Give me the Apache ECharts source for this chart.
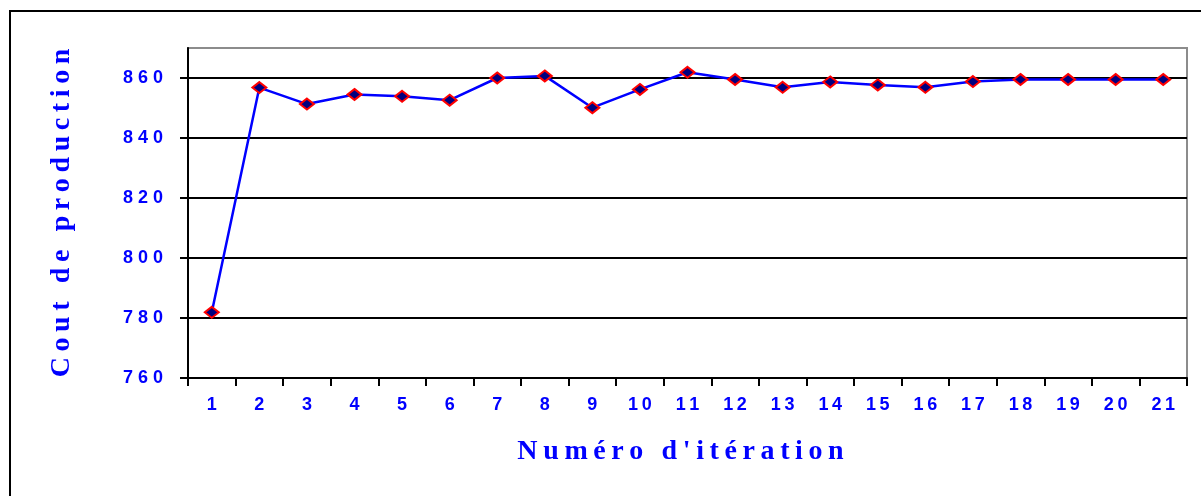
<!DOCTYPE html>
<html>
<head>
<meta charset="utf-8">
<script src="https://cdn.jsdelivr.net/npm/echarts@6/dist/echarts.min.js"></script>
<style>
html,body{margin:0;padding:0;background:#fff;}
#main{width:1201px;height:496px;}
</style>
</head>
<body>
<div id="main"></div>
<script>
var iterations=['1','2','3','4','5','6','7','8','9','10','11','12','13','14','15','16','17','18','19','20','21'];
var couts=[781.9,856.8,851.3,854.5,853.9,852.6,860.0,860.7,850.1,856.2,861.9,859.5,856.9,858.7,857.7,856.9,858.8,859.5,859.5,859.5,859.5];
var yTicks=[760,780,800,820,840,860];
var xTitle="Numéro d'itération";
var yTitle="Cout de production";

var myChart = echarts.init(document.getElementById('main'));

// espace fin entre les lettres, comme dans l'image
function espace(s,sep){
	return s.split('').join(sep);
}

myChart.setOption({
	animation:false,
	backgroundColor:'#fff',
	graphic:[{
		type:'rect',
		shape:{x:10,y:11,width:1400,height:700},
		style:{fill:'none',stroke:'#000',lineWidth:2},
		silent:true
	}],
	grid:{
		left:188,
		top:48,
		right:14,
		bottom:118,
		show:true,
		borderColor:'#8c8c8c',
		borderWidth:2
	},
	xAxis:{
		type:'category',
		data:iterations,
		boundaryGap:true,
		name:espace(xTitle,'\u2009'),
		nameLocation:'middle',
		nameGap:60,
		nameTextStyle:{color:'#0000ff',fontFamily:'Liberation Serif',fontWeight:'bold',fontSize:28,padding:[0,14,0,0]},
		axisLine:{lineStyle:{color:'#000',width:2}},
		axisTick:{show:true,length:8,lineStyle:{color:'#000',width:2}},
		axisLabel:{
			color:'#0000ff',fontFamily:'Liberation Sans',fontWeight:'bold',fontSize:18,margin:18,
			formatter:function(v){return espace(v,'\u2009');}
		},
		splitLine:{show:false}
	},
	yAxis:{
		type:'value',
		min:760,
		max:870,
		interval:20,
		name:espace(yTitle,'\u2009'),
		nameLocation:'middle',
		nameRotate:90,
		nameGap:112,
		nameTextStyle:{color:'#0000ff',fontFamily:'Liberation Serif',fontWeight:'bold',fontSize:28},
		axisLine:{show:true,lineStyle:{color:'#000',width:2}},
		axisTick:{show:true,length:8,customValues:yTicks,lineStyle:{color:'#000',width:2}},
		axisLabel:{
			color:'#0000ff',fontFamily:'Liberation Sans',fontWeight:'bold',fontSize:18,margin:25,
			customValues:yTicks,
			formatter:function(v){return espace(String(v),' ');}
		},
		splitLine:{show:true,lineStyle:{color:'#000',width:2}}
	},
	series:[{
		type:'line',
		data:couts,
		symbol:'diamond',
		symbolSize:[14,11],
		lineStyle:{color:'#0000ff',width:2.5},
		itemStyle:{color:'#000080',borderColor:'#ff0000',borderWidth:2}
	}]
});
</script>
</body>
</html>
